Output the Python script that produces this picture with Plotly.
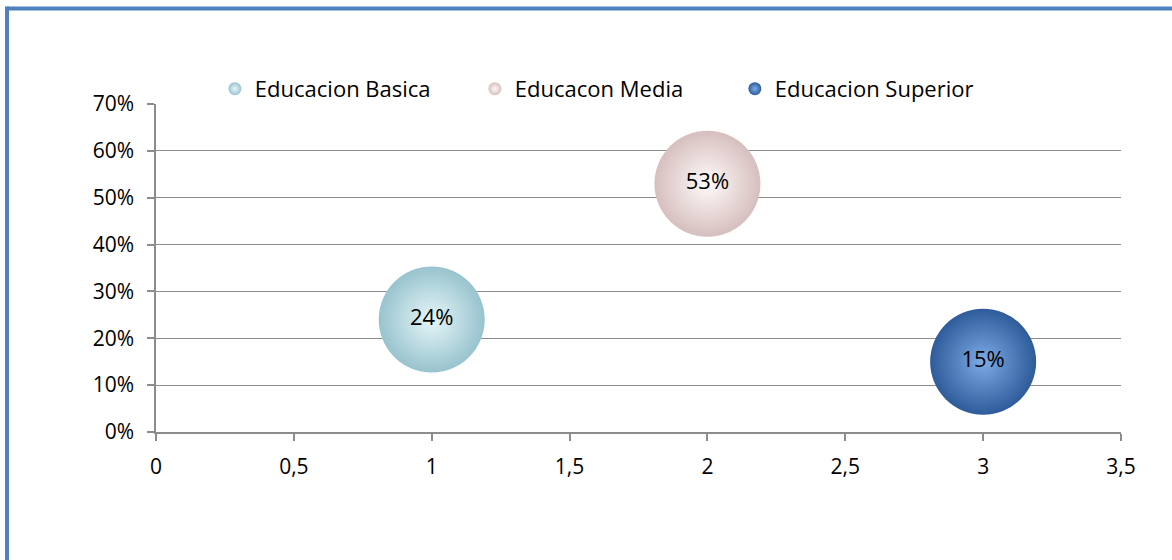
import plotly.graph_objects as go

# datos del grafico de burbujas
series = ["Educacion Basica", "Educacon Media", "Educacion Superior"]
x_vals = [1, 2, 3]
y_vals = [0.24, 0.53, 0.15]
labels = ["24%", "53%", "15%"]

# colores: centro (brillo), borde
centro = ["#E6F6F9", "#FFFAFA", "#7CABE6"]
borde = ["#98C3CE", "#D6BFBE", "#2E5C9A"]

fig = go.Figure()
for i in range(len(series)):
    fig.add_trace(go.Scatter(
        x=[x_vals[i]],
        y=[y_vals[i]],
        mode="markers+text",
        name=series[i],
        text=[labels[i]],
        textposition="middle center",
        textfont=dict(size=22, color="black"),
        marker=dict(
            size=106,
            color=borde[i],
            gradient=dict(type="radial", color=centro[i]),
            line=dict(width=0),
        ),
        cliponaxis=False,
        showlegend=False,
        hoverinfo="x+y+name",
    ))

# entradas de leyenda con esferas pequeñas
for i in range(len(series)):
    fig.add_trace(go.Scatter(
        x=[None],
        y=[None],
        mode="markers",
        name=series[i],
        marker=dict(
            size=13,
            color=borde[i],
            gradient=dict(type="radial", color=centro[i]),
            line=dict(width=0),
        ),
        showlegend=True,
    ))

fig.update_layout(
    width=1172,
    height=560,
    margin=dict(l=156, r=51, t=104, b=128),
    paper_bgcolor="white",
    plot_bgcolor="white",
    separators=",.",
    font=dict(family="Open Sans, sans-serif", size=21, color="black"),
    showlegend=True,
    legend=dict(
        orientation="h",
        x=0.061,
        xanchor="left",
        y=1.046,
        yanchor="middle",
        itemsizing="trace",
        font=dict(size=22),
        bgcolor="rgba(0,0,0,0)",
        itemwidth=30,
        entrywidth=215,
        entrywidthmode="pixels",
    ),
    xaxis=dict(
        range=[0, 3.5],
        dtick=0.5,
        tick0=0,
        showgrid=False,
        zeroline=False,
        showline=True,
        linecolor="#8C8C8C",
        linewidth=1.5,
        ticks="outside",
        ticklen=7,
        tickcolor="#8C8C8C",
        tickwidth=1.5,
        ticklabelstandoff=8,
    ),
    yaxis=dict(
        range=[0, 0.7],
        dtick=0.1,
        tick0=0,
        tickformat=".0%",
        showgrid=True,
        gridcolor="#8C8C8C",
        gridwidth=1.2,
        zeroline=False,
        showline=True,
        linecolor="#8C8C8C",
        linewidth=1.5,
        ticks="outside",
        ticklen=7,
        tickcolor="#8C8C8C",
        tickwidth=1.5,
        ticklabelstandoff=9,
    ),
    shapes=[
        # marco azul (arriba e izquierda)
        dict(type="line", xref="paper", yref="paper",
             x0=-0.1544, x1=1.06, y0=1.2912, y1=1.2912,
             line=dict(color="#4F81BD", width=4)),
        dict(type="line", xref="paper", yref="paper",
             x0=-0.1544, x1=-0.1544, y0=1.2973, y1=-0.40,
             line=dict(color="#4F81BD", width=4)),
    ],
)

fig.write_html("out.html", config={"displayModeBar": False},
               post_script="document.body.style.margin='0';")
